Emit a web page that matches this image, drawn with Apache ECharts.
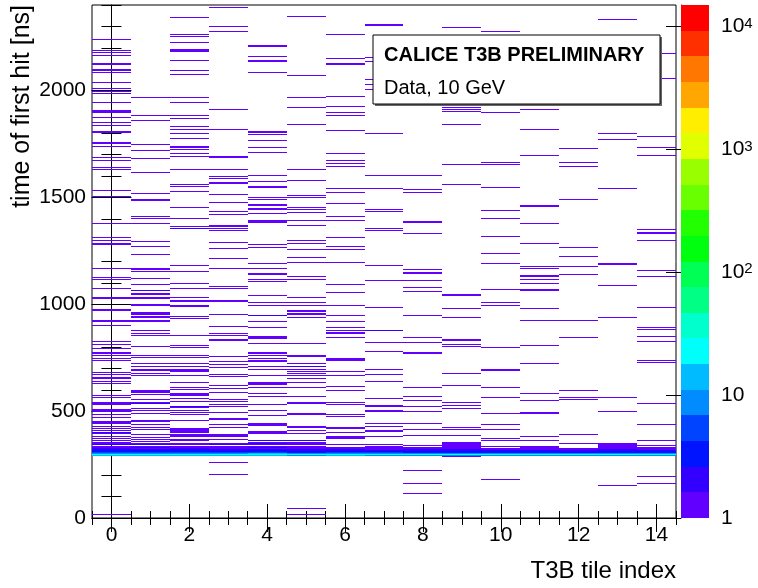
<!DOCTYPE html>
<html>
<head>
<meta charset="utf-8">
<script src="https://cdn.jsdelivr.net/npm/echarts@6/dist/echarts.min.js"></script>
<style>
html,body{margin:0;padding:0;background:#fff}
#main{width:758px;height:588px}
</style>
</head>
<body>
<div id="main"></div>
<script>
//tile index (x bins)
var tiles = [0,1,2,3,4,5,6,7,8,9,10,11,12,13,14];
//single hits per tile, time of first hit [ns]
var hitTimes = [
	[2241,2187,2176,2164,2122,2101,2094,2084,2037,2008,1995,1984,1942,1910,1905,1897,1872,1849,1835,1805,1801,1755,1741,1685,1671,1639,1629,1533,1505,1382,1312,1299,1285,1280,1171,1125,1115,1073,1031,1023,977,972,925,917,902,827,813,796,773,768,763,748,735,681,671,653,648,643,629,573,564,539,534,530,505,500,495,480,470,453,449,444,430,421,408,403,399,394,380,372,363,355,350,345,341,19],
	[1966,1886,1860,1751,1723,1681,1615,1517,1489,1484,1411,1400,1382,1293,1269,1232,1171,1162,1153,1120,1092,1065,1061,1047,1042,1031,1023,1003,995,963,958,953,944,939,925,921,877,860,850,804,762,751,723,707,695,690,676,665,598,593,589,578,555,542,537,533,513,503,489,458,453,438,424,414,393,379,369,357,350,345,341],
	[2340,2265,2252,2223,2190,2185,2181,2139,2097,2075,1966,1942,1882,1868,1830,1816,1798,1774,1741,1734,1724,1704,1692,1629,1564,1551,1531,1452,1400,1366,1358,1354,1185,1154,1097,1073,1031,1014,994,989,944,933,854,807,799,762,751,720,707,695,690,685,664,637,611,601,583,578,573,559,545,523,519,514,502,491,481,458,419,414,410,405,400,389,385,380,368,360,347,341],
	[2386,2302,2279,1914,1816,1690,1685,1629,1597,1584,1569,1513,1475,1433,1419,1369,1365,1355,1344,1288,1260,1213,1171,1083,1075,1017,952,896,863,854,835,757,731,718,703,668,660,621,606,589,555,544,528,520,492,461,438,424,391,386,382,368,350,345,341,262,204],
	[2209,2204,2157,2139,2134,2084,1807,1802,1793,1765,1734,1713,1603,1573,1551,1547,1498,1489,1466,1461,1447,1442,1424,1388,1383,1279,1265,1195,1167,1145,1140,1115,1106,1041,1012,998,950,946,917,891,847,843,838,816,777,770,759,746,735,731,710,692,664,634,629,625,611,583,567,528,502,477,442,438,433,407,402,397,364,360,355,350,346,341],
	[2343,2069,1966,1924,1840,1629,1578,1508,1498,1452,1444,1428,1391,1368,1298,1285,1255,1218,1199,1129,1115,1031,1008,994,972,967,958,953,939,816,762,757,720,710,706,695,684,674,664,648,637,614,570,539,534,486,481,430,425,411,396,364,360,355,349,341,45,19],
	[2265,2148,2122,1969,1927,1900,1882,1812,1704,1671,1660,1642,1541,1522,1470,1410,1391,1312,1270,1255,1199,1092,1055,994,947,919,891,877,864,860,840,746,741,737,684,665,617,598,542,530,480,475,424,419,399,380,375,371,341],
	[2304,2153,2134,2051,2027,2005,1798,1600,1541,1442,1433,1358,1344,1185,1111,984,878,874,821,780,695,668,640,559,526,522,503,498,442,431,411,407,383,344],
	[1600,1536,1522,1386,1330,1162,1150,1145,1111,1078,1059,947,840,821,777,770,611,567,551,523,495,442,414,388,336,224,162,112],
	[2299,1922,1913,1903,1841,1654,1564,1045,1041,980,938,835,812,805,676,621,541,526,511,424,414,388,352,347,342,338,287],
	[2276,1896,1662,1654,1550,1438,1400,1316,1237,1195,1069,1008,994,801,692,687,611,564,486,439,414,372,360,178],
	[1914,1818,1696,1463,1458,1382,1284,1179,1171,1137,1132,1115,1097,1069,1064,980,924,807,720,583,551,494,486,382,360],
	[1729,1662,1646,1489,1265,1223,1176,1139,924,844,598,564,556,391,349],
	[2332,1798,1771,1545,1195,1190,1087,938,564,495,349,344,339,153],
	[2171,2059,1785,1734,1696,1349,1336,1332,1298,1157,1129,984,891,882,849,830,735,727,536,439,360,336,196,159]
];
//prompt peak: counts in consecutive bins from bandStart
var bandStart = 288;
var bandCounts = [
	[14,26,10,5,4,3,2,2,1,1],
	[12,25,11,6,4,3,2,1,2,1],
	[13,27,9,5,3,3,2,2,1,1],
	[12,24,10,6,4,2,2,1,1,1],
	[14,26,12,5,4,3,2,1,2,1],
	[11,24,9,4,3,2,2,1,1,1],
	[12,25,10,5,3,2,2,1,1,0],
	[10,22,9,5,3,2,1,1,1,1],
	[11,23,8,4,3,2,2,1,1,0],
	[10,22,8,4,3,2,2,1,1,1],
	[10,21,8,4,3,2,1,1,0,1],
	[11,22,7,4,3,2,1,1,1,1],
	[10,21,8,4,2,2,1,1,0,0],
	[11,22,8,4,3,2,2,1,1,1],
	[10,20,8,4,3,2,1,1,1,0]
];
var binWidth = 4.8;
var zMax = 15000;
var xTicks = [0,2,4,6,8,10,12,14];
var yTicks = [0,500,1000,1500,2000];
var zTicks = [0,1,2,3,4]; //log10
var palette = ['#6200ff','#3300ff','#0014ff','#0044ff','#008bff','#00bbff','#00fffb','#00ffcc','#00ff85','#00ff55',
	'#00ff0e','#22ff00','#69ff00','#99ff00','#e0ff00','#ffee00','#ffa700','#ff7700','#ff3000','#ff0000'];

var FONT = 'Liberation Sans, Arial, Helvetica, sans-serif';
var zTop = Math.log10(zMax);

//fill histogram
var counts = {};
tiles.forEach(function (tile, i) {
	hitTimes[i].forEach(function (t) {
		var k = tile + '_' + Math.floor(t / binWidth);
		counts[k] = (counts[k] || 0) + 1;
	});
	var b0 = Math.round(bandStart / binWidth);
	bandCounts[i].forEach(function (c, j) {
		if (!c) return;
		var k = tile + '_' + (b0 + j);
		counts[k] = (counts[k] || 0) + c;
	});
});
var cells = [];
for (var k in counts) {
	var p = k.split('_');
	cells.push([+p[0], +p[1] * binWidth, counts[k]]);
}

function colorOf(c) {
	var lv = Math.floor(Math.log10(c) / zTop * palette.length);
	return palette[Math.max(0, Math.min(palette.length - 1, lv))];
}

function renderCell(params, api) {
	var x = api.value(0), t = api.value(1);
	var p1 = api.coord([x - 0.5, t + binWidth]);
	var p2 = api.coord([x + 0.5, t]);
	var x1 = Math.round(p1[0]), x2 = Math.round(p2[0]);
	var y1 = Math.round(p1[1]), y2 = Math.round(p2[1]);
	if (y2 - y1 < 1) y2 = y1 + 1;
	return {
		type: 'rect',
		shape: {x: x1, y: y1, width: x2 - x1, height: y2 - y1},
		style: {fill: colorOf(api.value(2))}
	};
}

function renderLevel(params, api) {
	var j = api.value(0);
	var step = zTop / palette.length;
	var p1 = api.coord([0, (j + 1) * step]);
	var p2 = api.coord([1, j * step]);
	return {
		type: 'rect',
		shape: {x: p1[0], y: Math.round(p1[1]), width: p2[0] - p1[0], height: Math.round(p2[1]) - Math.round(p1[1])},
		style: {fill: palette[j]}
	};
}

var xMinor = [], yMinor = [], zMinor = [];
for (var v = -0.5; v <= 14.5; v += 0.5) xMinor.push(v);
for (var v = 0; v <= 2400; v += 100) yMinor.push(v);
for (var n = 0; n < 5; n++) for (var m = 2; m <= 9; m++) {
	var lv = n + Math.log10(m);
	if (lv < zTop) zMinor.push(lv);
}

var black = {color: '#000', width: 1};
function tickAxis(extra) {
	var a = {
		type: 'value', splitLine: {show: false},
		axisLine: {show: false}, axisLabel: {show: false}
	};
	for (var key in extra) a[key] = extra[key];
	return a;
}
function plain(v) { return String(v); }

var option = {
	backgroundColor: '#fff',
	animation: false,
	grid: [
		{left: 92, top: 5, width: 584, height: 513, show: true, borderColor: '#000', borderWidth: 1, backgroundColor: 'transparent'},
		{left: 681, top: 5, width: 28, height: 513}
	],
	xAxis: [
		{
			type: 'value', gridIndex: 0, min: -0.5, max: 14.5, position: 'bottom',
			splitLine: {show: false},
			axisLine: {lineStyle: black},
			axisTick: {inside: true, length: 14, customValues: xTicks, lineStyle: black},
			axisLabel: {customValues: xTicks, fontSize: 21, color: '#000', margin: 7, fontFamily: FONT, formatter: plain}
		},
		tickAxis({gridIndex: 0, min: -0.5, max: 14.5, position: 'bottom',
			axisTick: {inside: true, length: 7, customValues: xMinor, lineStyle: black}}),
		tickAxis({gridIndex: 0, min: -0.5, max: 14.5, position: 'top',
			axisTick: {inside: true, length: 14, customValues: xTicks, lineStyle: black}}),
		tickAxis({gridIndex: 0, min: -0.5, max: 14.5, position: 'top',
			axisTick: {inside: true, length: 7, customValues: xMinor, lineStyle: black}}),
		{type: 'value', gridIndex: 1, min: 0, max: 1, show: false}
	],
	yAxis: [
		{
			type: 'value', gridIndex: 0, min: 0, max: 2400, position: 'left',
			splitLine: {show: false},
			axisLine: {lineStyle: black},
			axisTick: {inside: true, length: 20, customValues: yTicks, lineStyle: black},
			axisLabel: {customValues: yTicks, fontSize: 21, color: '#000', margin: 6, fontFamily: FONT, formatter: plain}
		},
		tickAxis({gridIndex: 0, min: 0, max: 2400, position: 'left',
			axisTick: {inside: true, length: 10, customValues: yMinor, lineStyle: black}}),
		tickAxis({gridIndex: 0, min: 0, max: 2400, position: 'right',
			axisTick: {inside: true, length: 20, customValues: yTicks, lineStyle: black}}),
		tickAxis({gridIndex: 0, min: 0, max: 2400, position: 'right',
			axisTick: {inside: true, length: 10, customValues: yMinor, lineStyle: black}}),
		{
			type: 'value', gridIndex: 1, min: 0, max: zTop, position: 'right',
			splitLine: {show: false},
			axisLine: {show: true, lineStyle: black},
			axisTick: {inside: true, length: 15, customValues: zTicks, lineStyle: black},
			axisLabel: {
				customValues: zTicks, fontSize: 21, color: '#000', margin: 12, fontFamily: FONT,
				formatter: function (v) {
					v = Math.round(v);
					if (v === 0) return '1';
					if (v === 1) return '10';
					return '10{sup|' + v + '}';
				},
				rich: {sup: {fontSize: 15, verticalAlign: 'top', lineHeight: 15, fontFamily: FONT, color: '#000'}}
			}
		},
		tickAxis({gridIndex: 1, min: 0, max: zTop, position: 'right',
			axisTick: {inside: true, length: 7, customValues: zMinor, lineStyle: black}})
	],
	series: [
		{
			type: 'custom', xAxisIndex: 0, yAxisIndex: 0,
			renderItem: renderCell, data: cells, clip: true, silent: true
		},
		{
			type: 'custom', xAxisIndex: 4, yAxisIndex: 4,
			renderItem: renderLevel, data: palette.map(function (c, j) { return [j]; }), silent: true
		}
	],
	graphic: [
		{
			type: 'text', x: 22, y: 5, rotation: Math.PI / 2, z: 100,
			style: {text: 'time of first hit [ns]', font: '25px ' + FONT, fill: '#000', align: 'right', verticalAlign: 'middle'}
		},
		{
			type: 'text', x: 676, y: 571, z: 100,
			style: {text: 'T3B tile index', font: '24px ' + FONT, fill: '#000', align: 'right', verticalAlign: 'middle'}
		},
		{type: 'rect', shape: {x: 375, y: 37, width: 287, height: 69}, style: {fill: '#666'}, z: 100},
		{type: 'rect', shape: {x: 373, y: 35, width: 287, height: 69}, style: {fill: '#fff', stroke: '#000', lineWidth: 1}, z: 101},
		{
			type: 'text', x: 384, y: 55, z: 102,
			style: {text: 'CALICE T3B PRELIMINARY', font: 'bold 20px ' + FONT, fill: '#000', verticalAlign: 'middle'}
		},
		{
			type: 'text', x: 384, y: 88, z: 102,
			style: {text: 'Data, 10 GeV', font: '20px ' + FONT, fill: '#000', verticalAlign: 'middle'}
		}
	]
};

var chart = echarts.init(document.getElementById('main'));
chart.setOption(option);
</script>
</body>
</html>
